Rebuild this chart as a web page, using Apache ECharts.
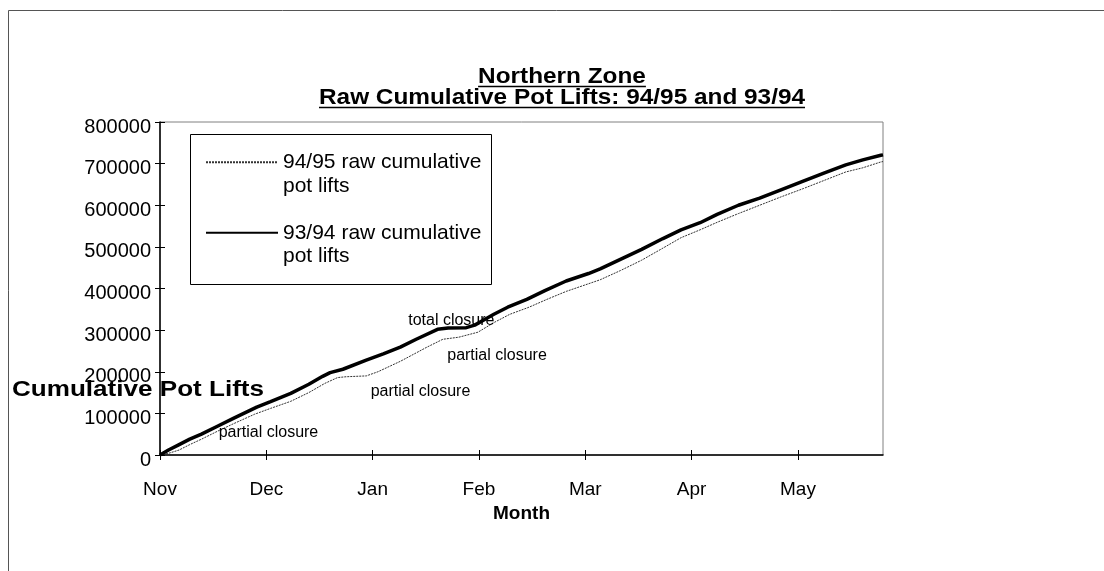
<!DOCTYPE html>
<html>
<head>
<meta charset="utf-8">
<title>Northern Zone</title>
<script src="https://cdn.jsdelivr.net/npm/echarts@6/dist/echarts.min.js"></script>
<style>
  html, body { margin: 0; padding: 0; background: #fff; }
  #main { width: 1104px; height: 571px; }
</style>
</head>
<body>
<div id="main"></div>
<script>
// x is months since 1 Nov, y is cumulative pot lifts
const monthLabels = ['Nov', 'Dec', 'Jan', 'Feb', 'Mar', 'Apr', 'May'];
const monthTicks = [0, 1, 2, 3, 4, 5, 6];

const month9394 = [0, 0.08, 0.18, 0.28, 0.39, 0.54, 0.69, 0.91, 1.04, 1.23, 1.40, 1.53, 1.60, 1.72, 1.94,
  2.10, 2.26, 2.41, 2.61, 2.71, 2.88, 2.96, 3.07, 3.14, 3.27, 3.45, 3.62, 3.82, 4.03, 4.14, 4.33,
  4.53, 4.73, 4.90, 5.08, 5.24, 5.44, 5.64, 5.84, 6.05, 6.25, 6.45, 6.61, 6.78, 6.80];
const lifts9394 = [0, 12000, 25000, 38000, 50000, 69000, 88000, 115000, 128000, 148000, 170000, 189000, 198000, 206000, 228000,
  243000, 259000, 278000, 302000, 305000, 306000, 312000, 328000, 338000, 355000, 374000, 395000, 418000, 436000, 447000, 470000,
  494000, 520000, 541000, 558000, 578000, 600000, 617000, 637000, 658000, 678000, 697000, 709000, 720000, 721000];

const month9495 = [0, 0.08, 0.18, 0.28, 0.39, 0.54, 0.69, 0.89, 1.04, 1.23, 1.40, 1.55, 1.67, 1.75, 1.94,
  2.05, 2.26, 2.51, 2.66, 2.81, 2.99, 3.14, 3.29, 3.47, 3.64, 3.82, 4.14, 4.33, 4.53, 4.73, 4.90,
  5.08, 5.24, 5.44, 5.64, 5.84, 6.05, 6.25, 6.45, 6.61, 6.78, 6.80];
const lifts9495 = [0, 4000, 12000, 25000, 38000, 57000, 75000, 98000, 112000, 129000, 150000, 172000, 186000, 188000, 190000,
  200000, 225000, 259000, 278000, 283000, 295000, 318000, 338000, 355000, 374000, 393000, 421000, 443000, 468000, 497000, 522000,
  541000, 559000, 580000, 600000, 620000, 640000, 660000, 680000, 690000, 704000, 705000];

const noteText = ['total closure', 'partial closure', 'partial closure', 'partial closure'];
const noteMonth = [2.74, 3.17, 2.45, 1.02];
const noteLifts = [322000, 240000, 152000, 53000];

const name9495 = '94/95 raw cumulative\npot lifts';
const name9394 = '93/94 raw cumulative\npot lifts';

const FONT = '"Liberation Sans", Arial, sans-serif';
const titleLines = ['Northern Zone', 'Raw Cumulative Pot Lifts: 94/95 and 93/94'];
const titleY = [77, 98];
const titleX = 562;
const titleSize = 22;
const titleWidth = 486; // width of the long line in the picture

const ctx = document.createElement('canvas').getContext('2d');
const textW = (t, font) => { ctx.font = font; return ctx.measureText(t).width; };

const titleFont = 'bold ' + titleSize + 'px ' + FONT;
const titleScale = titleWidth / textW(titleLines[1], titleFont);

const titleGraphics = [];
titleLines.forEach((t, i) => {
  const w = textW(t, titleFont) * titleScale;
  titleGraphics.push({
    type: 'text', x: titleX, y: titleY[i], scaleX: titleScale, silent: true,
    style: { text: t, font: titleFont, fill: '#000', align: 'center', verticalAlign: 'middle' }
  });
  titleGraphics.push({
    type: 'line', silent: true,
    shape: { x1: titleX - w / 2, y1: titleY[i] + 9.5, x2: titleX + w / 2, y2: titleY[i] + 9.5 },
    style: { stroke: '#000', lineWidth: 1.5 }
  });
});

const yNameFont = 'bold 22px ' + FONT;
const yNameScale = 252 / textW('Cumulative Pot Lifts', yNameFont);

const chart = echarts.init(document.getElementById('main'));

const xBase = {
  type: 'value', min: 0, max: 6.8, interval: 1, position: 'bottom',
  splitLine: { show: false }
};
const yBase = {
  type: 'value', min: 0, max: 800000, interval: 100000, position: 'left',
  splitLine: { show: false }
};

chart.setOption({
  animation: false,
  backgroundColor: '#fff',
  textStyle: { fontFamily: FONT },
  grid: {
    left: 160, top: 122, width: 723, height: 333,
    show: true, borderColor: '#808080', borderWidth: 1, backgroundColor: 'transparent'
  },
  legend: {
    orient: 'vertical', left: 205, top: 127, padding: 0, itemGap: 0,
    itemWidth: 72, itemHeight: 10,
    itemStyle: { opacity: 0 },
    formatter: n => '\n' + n,
    textStyle: { fontSize: 21, lineHeight: 23.5, color: '#000', fontFamily: FONT },
    data: [name9495, name9394]
  },
  xAxis: [
    Object.assign({}, xBase, {
      axisLine: { lineStyle: { color: '#000', width: 1.5 } },
      axisTick: { inside: false, length: 5, lineStyle: { color: '#000' }, customValues: monthTicks },
      axisLabel: {
        customValues: monthTicks, margin: 25, fontSize: 19, color: '#000',
        formatter: v => monthLabels[Math.round(v)] || ''
      },
      name: 'Month', nameLocation: 'middle', nameGap: 41,
      nameTextStyle: { fontSize: 19, fontWeight: 'bold', color: '#000' }
    }),
    Object.assign({}, xBase, {
      axisLine: { show: false },
      axisTick: { inside: true, length: 5, lineStyle: { color: '#000' }, customValues: monthTicks },
      axisLabel: { show: false }
    })
  ],
  yAxis: [
    Object.assign({}, yBase, {
      axisLine: { show: true, lineStyle: { color: '#000', width: 1.5 } },
      axisTick: { show: true, inside: false, length: 5, lineStyle: { color: '#000' } },
      axisLabel: {
        margin: 9, fontSize: 20, color: '#000', verticalAlign: 'top', lineHeight: 10,
        formatter: v => String(v)
      }
    }),
    Object.assign({}, yBase, {
      axisLine: { show: false },
      axisTick: { show: true, inside: true, length: 5, lineStyle: { color: '#000' } },
      axisLabel: { show: false }
    })
  ],
  series: [
    {
      name: name9495, type: 'line', showSymbol: false, symbol: 'none', z: 2,
      lineStyle: { color: '#333', width: 1, type: [2, 1] },
      itemStyle: { color: '#333' },
      data: month9495.map((m, i) => [m, lifts9495[i]])
    },
    {
      name: name9394, type: 'line', showSymbol: false, symbol: 'none', z: 3,
      lineStyle: { color: '#000', width: 3.5 },
      itemStyle: { color: '#000' },
      data: month9394.map((m, i) => [m, lifts9394[i]]),
      markPoint: {
        symbol: 'circle', symbolSize: 0, silent: true,
        label: { show: true, position: 'inside', fontSize: 16, color: '#000', fontFamily: FONT },
        data: noteText.map((t, i) => ({ coord: [noteMonth[i], noteLifts[i]], value: t }))
      }
    }
  ],
  graphic: [
    {
      type: 'polyline', silent: true,
      shape: { points: [[8.5, 571], [8.5, 10.5], [1104, 10.5]] },
      style: { stroke: '#555', lineWidth: 1, fill: null }
    },
    {
      type: 'rect', silent: true, z: -1,
      shape: { x: 190.5, y: 134.5, width: 301, height: 150 },
      style: { stroke: '#000', lineWidth: 1, fill: '#fff' }
    },
    {
      type: 'text', x: 12, y: 390, scaleX: yNameScale, silent: true,
      style: { text: 'Cumulative Pot Lifts', font: yNameFont, fill: '#000', align: 'left', verticalAlign: 'middle' }
    }
  ].concat(titleGraphics)
});
</script>
</body>
</html>
